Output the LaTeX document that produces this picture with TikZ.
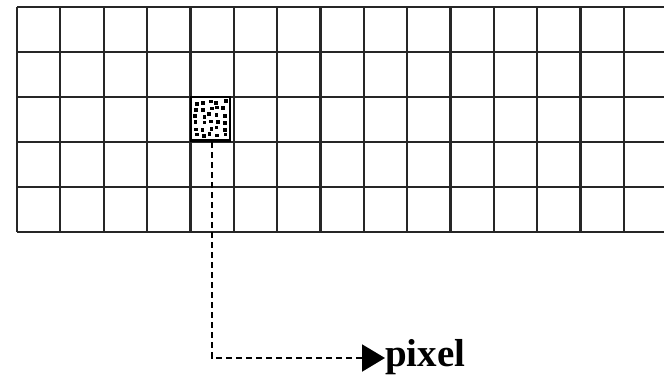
\documentclass[tikz,border=0pt]{standalone}
\usepackage{fontspec}
\setmainfont{Liberation Serif}
\usetikzlibrary{arrows.meta}
\tikzset{
  gridline/.style={line width=2.2pt, black!85},
  pixbox/.style={draw=black, line width=2.2pt, fill=white, minimum width=39pt, minimum height=44pt, inner sep=0pt},
  leader/.style={line width=2pt, dash pattern=on 6pt off 4pt, -{Triangle[length=23pt,width=27pt]}},
  lbl/.style={inner sep=0pt, anchor=west, text height=24pt, text depth=8pt, font=\fontsize{39pt}{41pt}\selectfont\bfseries}
}
\begin{document}
\begin{tikzpicture}[x=1pt,y=-1pt]
\useasboundingbox (0,0) rectangle (664,376);
\fill[white] (0,0) rectangle (664,376);
% grid
\foreach \r in {0,...,5} { \draw[gridline] (17,7+45*\r) -- (664,7+45*\r); }
\foreach \c in {0,...,14} { \draw[gridline] (17+43.35*\c,7) -- (17+43.35*\c,232); }
% highlighted pixel
\node[pixbox] (cell) at (210.5,119) {};
\draw[black, line width=3pt] (191,140) -- (230,140);
\pgfmathsetseed{11}
\foreach \i in {0,...,4} {
  \foreach \j in {0,...,5} {
    \pgfmathsetmacro{\dx}{193+\i*7.0+rnd*3.5}
    \pgfmathsetmacro{\dy}{99+\j*6.6+rnd*3.5}
    \fill[black] (\dx,\dy) rectangle ++(3.6,3.6);
  }
}
% label
\node[lbl] (label) at (385,358) {pixel};
\draw[leader] ([xshift=1.5pt]cell.south) |- (label.west);
\end{tikzpicture}
\end{document}
